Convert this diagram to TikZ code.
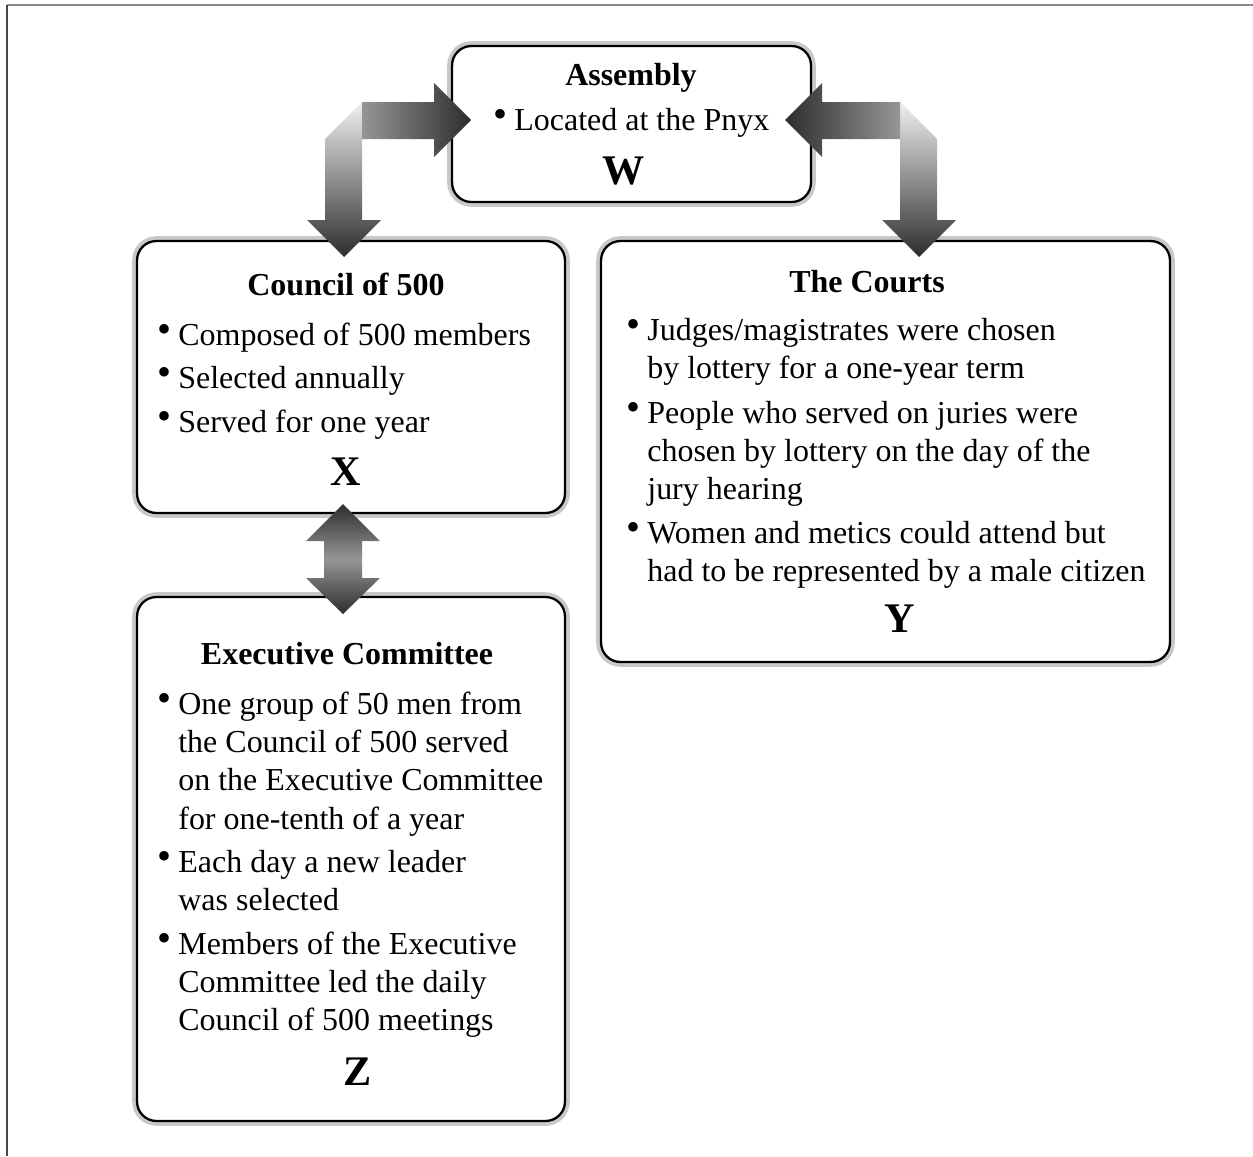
\documentclass[tikz,border=0pt]{standalone}
\usepackage{fontspec}
\usepackage{graphicx}
\setmainfont{Liberation Serif}
\definecolor{boxgray}{RGB}{200, 200, 200}
\definecolor{arrowlight}{RGB}{240, 240, 240}
\definecolor{arrowmid}{RGB}{150, 150, 150}
\definecolor{arrowdark}{RGB}{45, 45, 45}
\definecolor{framegray}{RGB}{138, 138, 138}
\definecolor{framedark}{RGB}{70, 70, 70}
\newcommand{\bul}{\llap{\raisebox{0.09em}{\scalebox{1.25}{\textbullet}}\hspace{0.22em}}}
\newcommand{\lines}[1]{\begin{tabular}[t]{@{}l@{}}#1\end{tabular}}
\tikzset{
	panel/.style = {rectangle, rounded corners = 11pt, draw = black, line width = 1.3pt, fill = white, preaction = {draw = boxgray, line width = 5.5pt}},
	head/.style = {font = \fontsize{18.2}{21.9}\selectfont\bfseries, anchor = base, inner sep = 0},
	entry/.style = {font = \fontsize{18.2}{21.9}\selectfont, anchor = base west, inner sep = 0},
	tag/.style = {font = \fontsize{24}{28}\selectfont\bfseries, anchor = base, inner sep = 0}
}
\begin{document}
\begin{tikzpicture}[x = 0.02cm, y = -0.02cm]
			\useasboundingbox (0,0) rectangle (1253,1156);
			\draw[framegray, line width = 1.2pt] (7,5) -- (1253,5);
			\draw[framedark, line width = 1pt] (7,5) -- (7,1156);
			% boxes
			\node (assembly) at (631.5,124) [panel, minimum width = 7.18cm, minimum height = 3.12cm] {};
			\node (council) at (351,377) [panel, minimum width = 8.56cm, minimum height = 5.44cm] {};
			\node (executive) at (351,859) [panel, minimum width = 8.56cm, minimum height = 10.48cm] {};
			\node (courts) at (885.5,451.5) [panel, minimum width = 11.38cm, minimum height = 8.42cm] {};
			% arrows
			\shade[top color = arrowlight, bottom color = arrowdark] (325,139) -- (362,102) -- (362,220) -- (381,220) -- (344,257) -- (307,220) -- (325,220) -- cycle;
			\shade[left color = arrowmid, right color = arrowdark] (362,102) -- (434,102) -- (434,83) -- (471,120) -- (434,157) -- (434,139) -- (362,139) -- cycle;
			\shade[top color = arrowlight, bottom color = arrowdark] (937,139) -- (900,102) -- (900,220) -- (882,220) -- (919,257) -- (956,220) -- (937,220) -- cycle;
			\shade[right color = arrowmid, left color = arrowdark] (900,102) -- (822,102) -- (822,83) -- (785,120) -- (822,157) -- (822,139) -- (900,139) -- cycle;
			\shade[top color = arrowdark, bottom color = arrowmid] (343,504) -- (380,541) -- (362,541) -- (362,559.5) -- (324,559.5) -- (324,541) -- (306,541) -- cycle;
			\shade[top color = arrowmid, bottom color = arrowdark] (324,559) -- (362,559) -- (362,578) -- (380,578) -- (343,614) -- (306,578) -- (324,578) -- cycle;
			% texts
			\node (asmtitle) at (631,85) [head] {Assembly};
			\node (asm1) at (514,130) [entry] {\bul Located at the Pnyx};
			\node (w) at (624,184) [tag] {W};
			\node (coutitle) at (346,295) [head] {Council of 500};
			\node (cou1) at (178,345) [entry] {\bul Composed of 500 members};
			\node (cou2) at (178,388) [entry] {\bul Selected annually};
			\node (cou3) at (178,432) [entry] {\bul Served for one year};
			\node (x) at (346,485) [tag] {X};
			\node (crttitle) at (867,292) [head] {The Courts};
			\node (crt1) at (647,340) [entry] {\lines{\bul Judges/magistrates were chosen\\by lottery for a one-year term}};
			\node (crt2) at (647,423) [entry] {\lines{\bul People who served on juries were\\chosen by lottery on the day of the\\jury hearing}};
			\node (crt3) at (647,543) [entry] {\lines{\bul Women and metics could attend but\\had to be represented by a male citizen}};
			\node (y) at (900,632) [tag] {Y};
			\node (exetitle) at (347,664) [head] {Executive Committee};
			\node (exe1) at (178,714) [entry] {\lines{\bul One group of 50 men from\\the Council of 500 served\\on the Executive Committee\\for one-tenth of a year}};
			\node (exe2) at (178,872) [entry] {\lines{\bul Each day a new leader\\was selected}};
			\node (exe3) at (178,954) [entry] {\lines{\bul Members of the Executive\\Committee led the daily\\Council of 500 meetings}};
			\node (z) at (358,1085) [tag] {Z};
\end{tikzpicture}
\end{document}
